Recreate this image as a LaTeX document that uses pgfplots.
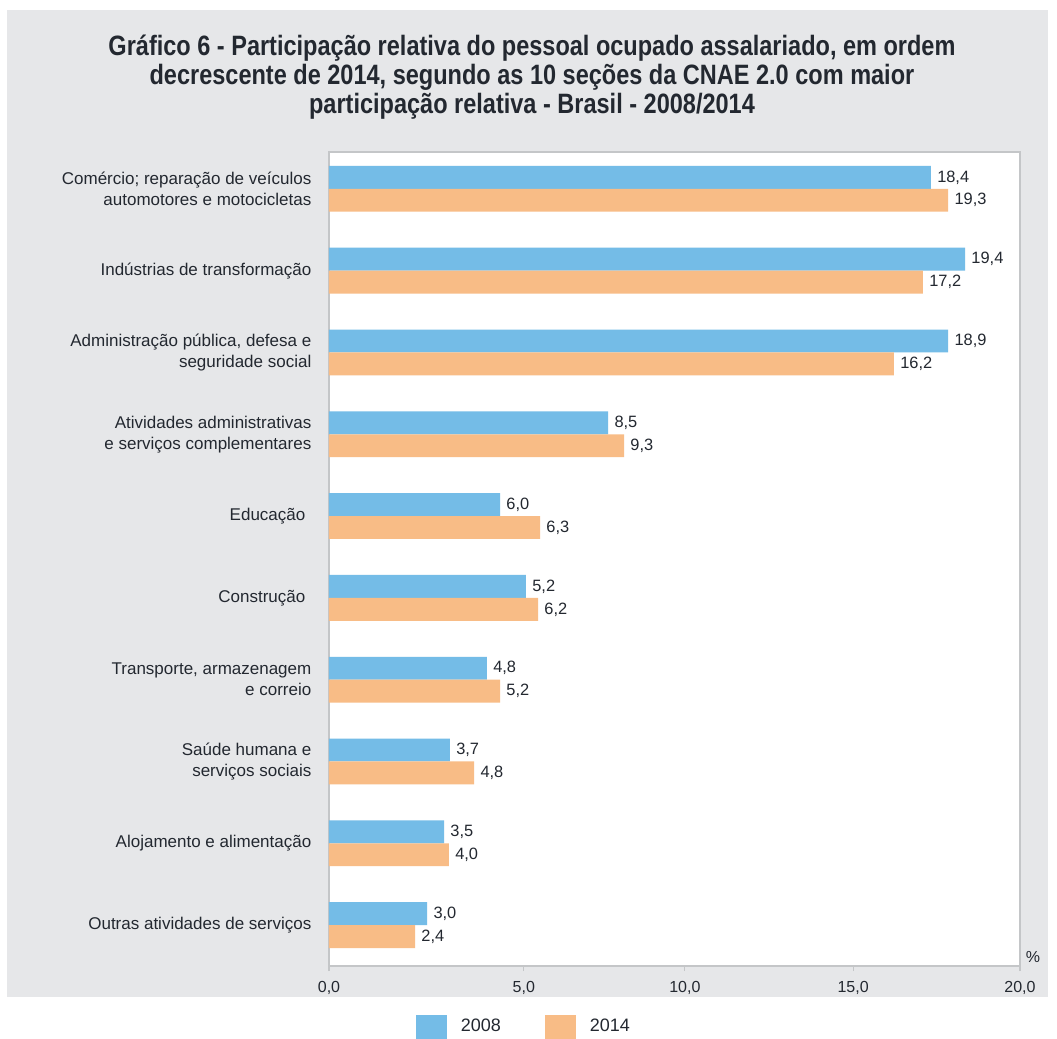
\documentclass[border=0pt]{standalone}
\usepackage{fontspec}
\setmainfont{Liberation Sans}
\newfontfamily\titlefont[FakeStretch=0.84]{Liberation Sans}
\usepackage{pgfplots}
\usepackage{pgfplotstable}
\pgfplotsset{compat=1.18}
\definecolor{bg}{HTML}{E6E7E9}
\definecolor{c08}{HTML}{74BCE7}
\definecolor{c14}{HTML}{F8BC86}
\definecolor{txt}{HTML}{232830}
\definecolor{axc}{HTML}{C4C6C8}

% bar lengths as drawn in the reference; labels as printed
\pgfplotstableread{
y a b la lb
0 17.42 17.92 18,4 19,3
1 18.41 17.19 19,4 17,2
2 17.92 16.35 18,9 16,2
3 8.08 8.54 8,5 9,3
4 4.95 6.11 6,0 6,3
5 5.70 6.05 5,2 6,2
6 4.57 4.95 4,8 5,2
7 3.50 4.20 3,7 4,8
8 3.33 3.47 3,5 4,0
9 2.84 2.49 3,0 2,4
}\data

\begin{document}
\begin{tikzpicture}
\fill[white] (0,0) rectangle (528.5pt,-519.5pt);
\fill[bg] (3.5pt,-5pt) rectangle (524pt,-498.5pt);
\node[align=center, text=txt, font=\titlefont\bfseries\fontsize{14}{14.6}\selectfont] at (266pt,-38.5pt)
  {Gráfico 6 - Participação relativa do pessoal ocupado assalariado, em ordem\\
   decrescente de 2014, segundo as 10 seções da CNAE 2.0 com maior\\
   participação relativa - Brasil - 2008/2014};
\begin{axis}[
  at={(164.5pt,-483pt)}, anchor=south west,
  width=345.5pt, height=407pt, scale only axis,
  xbar, xmin=0, xmax=20, ymin=-0.45, ymax=9.5, y dir=reverse,
  bar width=0.28,
  axis background/.style={fill=white},
  axis line style={draw=axc, line width=0.9pt},
  tick align=outside, major tick length=2.5pt,
  xtick pos=lower,
  xtick={0,5.64,10.30,15.17,20},
  xticklabels={{0,0},{5,0},{10,0},{15,0},{20,0}},
  xtick style={draw=axc, line width=0.6pt},
  xticklabel style={font=\fontsize{8}{10}\selectfont, text=txt, yshift=-1.5pt},
  ytick={0,...,9},
  ytick style={draw=none},
  yticklabels={{Comércio; reparação de veículos\\automotores e motocicletas},
    {Indústrias de transformação},
    {Administração pública, defesa e\\seguridade social},
    {Atividades administrativas\\e serviços complementares},
    {Educação\hspace*{3pt}},
    {Construção\hspace*{3pt}},
    {Transporte, armazenagem\\e correio},
    {Saúde humana e\\serviços sociais},
    {Alojamento e alimentação},
    {Outras atividades de serviços}},
  yticklabel style={align=right, font=\fontsize{8.5}{10.5}\selectfont, text=txt, xshift=-2.8pt},
  nodes near coords,
  point meta=explicit symbolic,
  nodes near coords style={anchor=west, inner sep=0pt, xshift=3pt, font=\fontsize{8.2}{10}\selectfont, text=txt},
  legend image code/.code={\fill[#1] (0pt,-6.25pt) rectangle (15.5pt,6.25pt);},
  legend style={at={(0.2836,-0.075)}, anchor=center, draw=none, fill=none,
    legend columns=2, font=\fontsize{9}{11}\selectfont, text=txt,
    /tikz/every odd column/.append style={column sep=5pt},
    /tikz/every even column/.append style={column sep=20pt}},
]
\addplot[fill=c08, draw=none, bar shift=-0.14] table[x=a, y=y, meta=la] {\data};
\addplot[fill=c14, draw=none, bar shift=0.14] table[x=b, y=y, meta=lb] {\data};
\legend{2008,2014}
\end{axis}
\node[text=txt, font=\fontsize{8}{10}\selectfont] at (516.5pt,-478.5pt) {\%};
\pgfresetboundingbox
\path (0,0) rectangle (528.5pt,-519.5pt);
\end{tikzpicture}
\end{document}
